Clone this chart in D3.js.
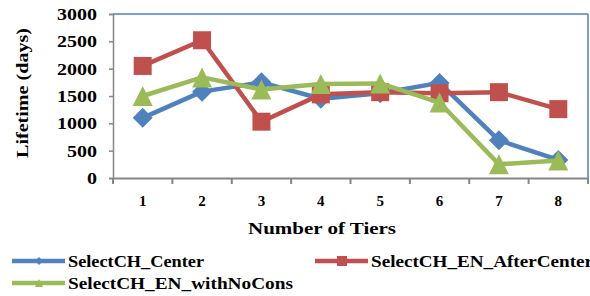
<!DOCTYPE html>
<html><head><meta charset="utf-8">
<script src="https://cdn.jsdelivr.net/npm/d3@7"></script>
<style>body{margin:0;background:#fff}svg{display:block}</style>
</head><body><svg id="c" width="590" height="296"></svg>
<script>
const categories = ["1","2","3","4","5","6","7","8"];
const selectCenter = [1100,1580,1750,1450,1550,1740,690,330];
const selectAfterCenter = [2050,2520,1030,1530,1570,1550,1570,1260];
const selectNoCons = [1500,1840,1620,1720,1730,1380,250,320];
const seriesNames = ["SelectCH_Center","SelectCH_EN_AfterCenter","SelectCH_EN_withNoCons"];
const yTicks = [0,500,1000,1500,2000,2500,3000];

const colors = ["#4F81BD","#C0504D","#9BBB59"];
const svg = d3.select("#c");
const L=113,R=588,T=14,B=178;
const x = d3.scaleBand().domain(categories).range([L,R]);
const y = d3.scaleLinear().domain([0,3000]).range([B,T]);
const font = "'Liberation Serif', 'Times New Roman', serif";

// plot border
svg.append("line").attr("x1",L).attr("x2",R).attr("y1",T).attr("y2",T).attr("stroke","#4F81BD").attr("stroke-width",1.5);
svg.append("line").attr("x1",R).attr("x2",R).attr("y1",T).attr("y2",B).attr("stroke","#4F81BD").attr("stroke-width",1.5);

// y axis
const ya = svg.append("g").attr("transform",`translate(${L},0)`)
  .call(d3.axisLeft(y).tickValues(yTicks).tickFormat(d3.format("d")).tickSize(4).tickPadding(12));
ya.select(".domain").attr("stroke","#868686").attr("stroke-width",1.5);
ya.selectAll(".tick line").attr("stroke","#868686").attr("stroke-width",1.5);
ya.selectAll("text").attr("font-family",font).attr("font-size",17).attr("fill","#000").attr("font-weight","bold")
  .attr("textLength",d=>String(d).length*10).attr("lengthAdjust","spacingAndGlyphs");

// x axis
const xa = svg.append("g").attr("transform",`translate(0,${B})`)
  .call(d3.axisBottom(x).tickSize(0).tickPadding(17));
xa.select(".domain").attr("stroke","#868686").attr("stroke-width",2);
xa.selectAll("text").attr("font-family",font).attr("font-size",15).attr("fill","#000").attr("font-weight","bold");
const bounds = categories.map(c=>x(c)).concat([R]);
svg.append("g").selectAll("line").data(bounds).join("line")
  .attr("x1",d=>d).attr("x2",d=>d).attr("y1",B).attr("y2",B+6)
  .attr("stroke","#868686").attr("stroke-width",2);

// titles
svg.append("text").attr("x",248).attr("y",234)
  .attr("font-family",font).attr("font-weight","bold").attr("font-size",17)
  .attr("textLength",148).attr("lengthAdjust","spacingAndGlyphs").text("Number of Tiers");
svg.append("text").attr("transform","translate(28,158) rotate(-90)")
  .attr("font-family",font).attr("font-weight","bold").attr("font-size",17)
  .attr("textLength",130).attr("lengthAdjust","spacingAndGlyphs").text("Lifetime (days)");

const cx = d=>x(d)+x.bandwidth()/2;
const data = [selectCenter,selectAfterCenter,selectNoCons];
function markerPath(si, s){
  const p = d3.path();
  if(si===0){ p.moveTo(0,-s/2); p.lineTo(s/2,0); p.lineTo(0,s/2); p.lineTo(-s/2,0); p.closePath(); }
  else if(si===1){ p.rect(-s/2,-s/2,s,s); }
  else { p.moveTo(0,-s/2); p.lineTo(s/2,s/2); p.lineTo(-s/2,s/2); p.closePath(); }
  return p.toString();
}
const msize = [20,18,20];
const line = d3.line().x((d,i)=>cx(categories[i])).y(d=>y(d));
data.forEach((vals,si)=>{
  const g = svg.append("g");
  g.append("path").datum(vals).attr("d",line).attr("fill","none")
    .attr("stroke",colors[si]).attr("stroke-width",4.5).attr("stroke-linejoin","round");
  g.selectAll("path.m").data(vals).join("path").attr("class","m")
    .attr("transform",(d,i)=>`translate(${cx(categories[i])},${y(d)})`)
    .attr("d",markerPath(si,msize[si]))
    .attr("fill",colors[si]);
});

// legend
const leg = [{x:12,y:261,w:136},{x:315,y:261,w:222},{x:12,y:283,w:225}];
leg.forEach((p,si)=>{
  const g = svg.append("g");
  g.append("line").attr("x1",p.x).attr("x2",p.x+53).attr("y1",p.y).attr("y2",p.y)
    .attr("stroke",colors[si]).attr("stroke-width",4.5);
  g.append("path").attr("transform",`translate(${p.x+27},${p.y})`)
    .attr("d",markerPath(si,si===1?10:8)).attr("fill",colors[si]);
  g.append("text").attr("x",p.x+56).attr("y",p.y+6).attr("font-family",font)
    .attr("font-size",17).attr("font-weight","bold")
    .attr("textLength",p.w).attr("lengthAdjust","spacingAndGlyphs").text(seriesNames[si]);
});
</script></body></html>
